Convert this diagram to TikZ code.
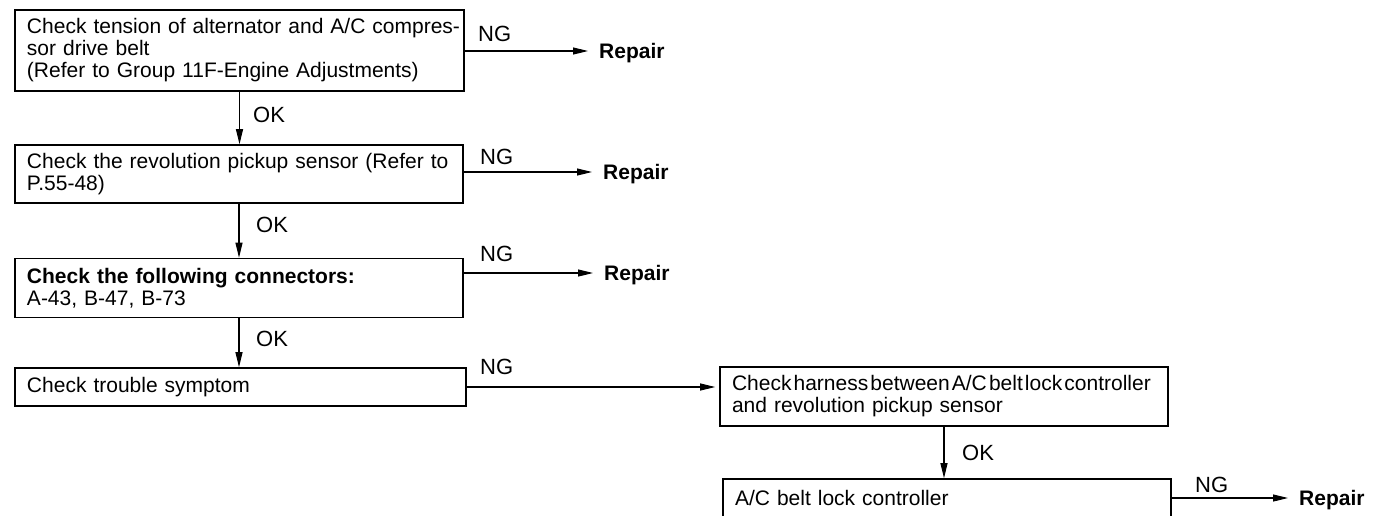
\documentclass[tikz,border=0pt]{standalone}
\usepackage{fontspec}
\setmainfont{Liberation Sans}
\usetikzlibrary{arrows.meta}
\tikzset{
  box/.style={draw, line width=1.6pt, inner xsep=12pt, inner ysep=0pt, align=left,
    font=\fontsize{21}{22}\selectfont},
  conn/.style={line width=1.1pt, -{Triangle[length=15pt,width=7pt]}},
  rep/.style={font=\bfseries\fontsize{21}{21}\selectfont, inner xsep=11pt, inner ysep=0pt,
    text height=15pt, text depth=0pt, anchor=west},
  lab/.style={font=\fontsize{22}{22}\selectfont, inner sep=0pt, text height=15.8pt,
    text depth=0pt, anchor=west}
}
\begin{document}
\begin{tikzpicture}[x=1pt,y=-1pt]
\useasboundingbox (0,0) rectangle (1394,515);
\fill[white] (0,0) rectangle (1394,515);
\clip (0,0) rectangle (1394,515);

% boxes
\node[box, minimum width=449pt, minimum height=81pt, text width=425pt] (b1) at (239.5,50.5)
  {\mbox{Check tension of alternator and A/C compres-}\\\mbox{sor drive belt}\\\mbox{(Refer to Group 11F-Engine Adjustments)}};
\node[box, minimum width=448pt, minimum height=58pt, text width=424pt] (b2) at (239,174)
  {\mbox{Check the revolution pickup sensor (Refer to}\\\mbox{P.55-48)}};
\node[box, minimum width=448pt, minimum height=59pt, text width=424pt] (b3) at (239,288)
  {\mbox{\bfseries Check the following connectors:}\\\mbox{A-43, B-47, B-73}};
\node[box, minimum width=451pt, minimum height=38pt, text width=427pt] (b4) at (240.5,387)
  {\mbox{Check trouble symptom}};
\node[box, minimum width=448pt, minimum height=59pt, text width=424pt] (b5) at (944,396.5)
  {\mbox{\spaceskip=0.1em Check harness between A/C belt lock controller}\\\mbox{and revolution pickup sensor}};
\node[box, minimum width=448pt, minimum height=38pt, text width=424pt] (b6) at (947,498)
  {\mbox{A/C belt lock controller}};

% repair targets
\node[rep] (r1) at (588,51) {Repair};
\node[rep] (r2) at (592,172) {Repair};
\node[rep] (r3) at (593,273) {Repair};
\node[rep] (r6) at (1288,498) {Repair};

% NG labels
\node[lab] (n1) at (478,33.5) {NG};
\node[lab] (n2) at (480,156.5) {NG};
\node[lab] (n3) at (480,253.5) {NG};
\node[lab] (n4) at (480,366.5) {NG};
\node[lab] (n6) at (1195,485) {NG};

% OK labels
\node[lab] (ok1) at (253,115) {OK};
\node[lab] (ok2) at (256,225) {OK};
\node[lab] (ok3) at (256,338.5) {OK};
\node[lab] (ok5) at (962,453) {OK};

% connectors
\draw[conn] (r1.west -| b1.east) -- (r1.west);
\draw[conn] (r2.west -| b2.east) -- (r2.west);
\draw[conn] (r3.west -| b3.east) -- (r3.west);
\draw[conn] (r6.west -| b6.east) -- (r6.west);
\draw[conn, shorten >=4pt] (b4.east) -- (b4.east -| b5.west);
\draw[conn] (b1.south) -- (b1.south |- b2.north);
\draw[conn] (b2.south) -- (b2.south |- b3.north);
\draw[conn] (b3.south) -- (b3.south |- b4.north);
\draw[conn] (b5.south) -- (b5.south |- b6.north);
\end{tikzpicture}
\end{document}
